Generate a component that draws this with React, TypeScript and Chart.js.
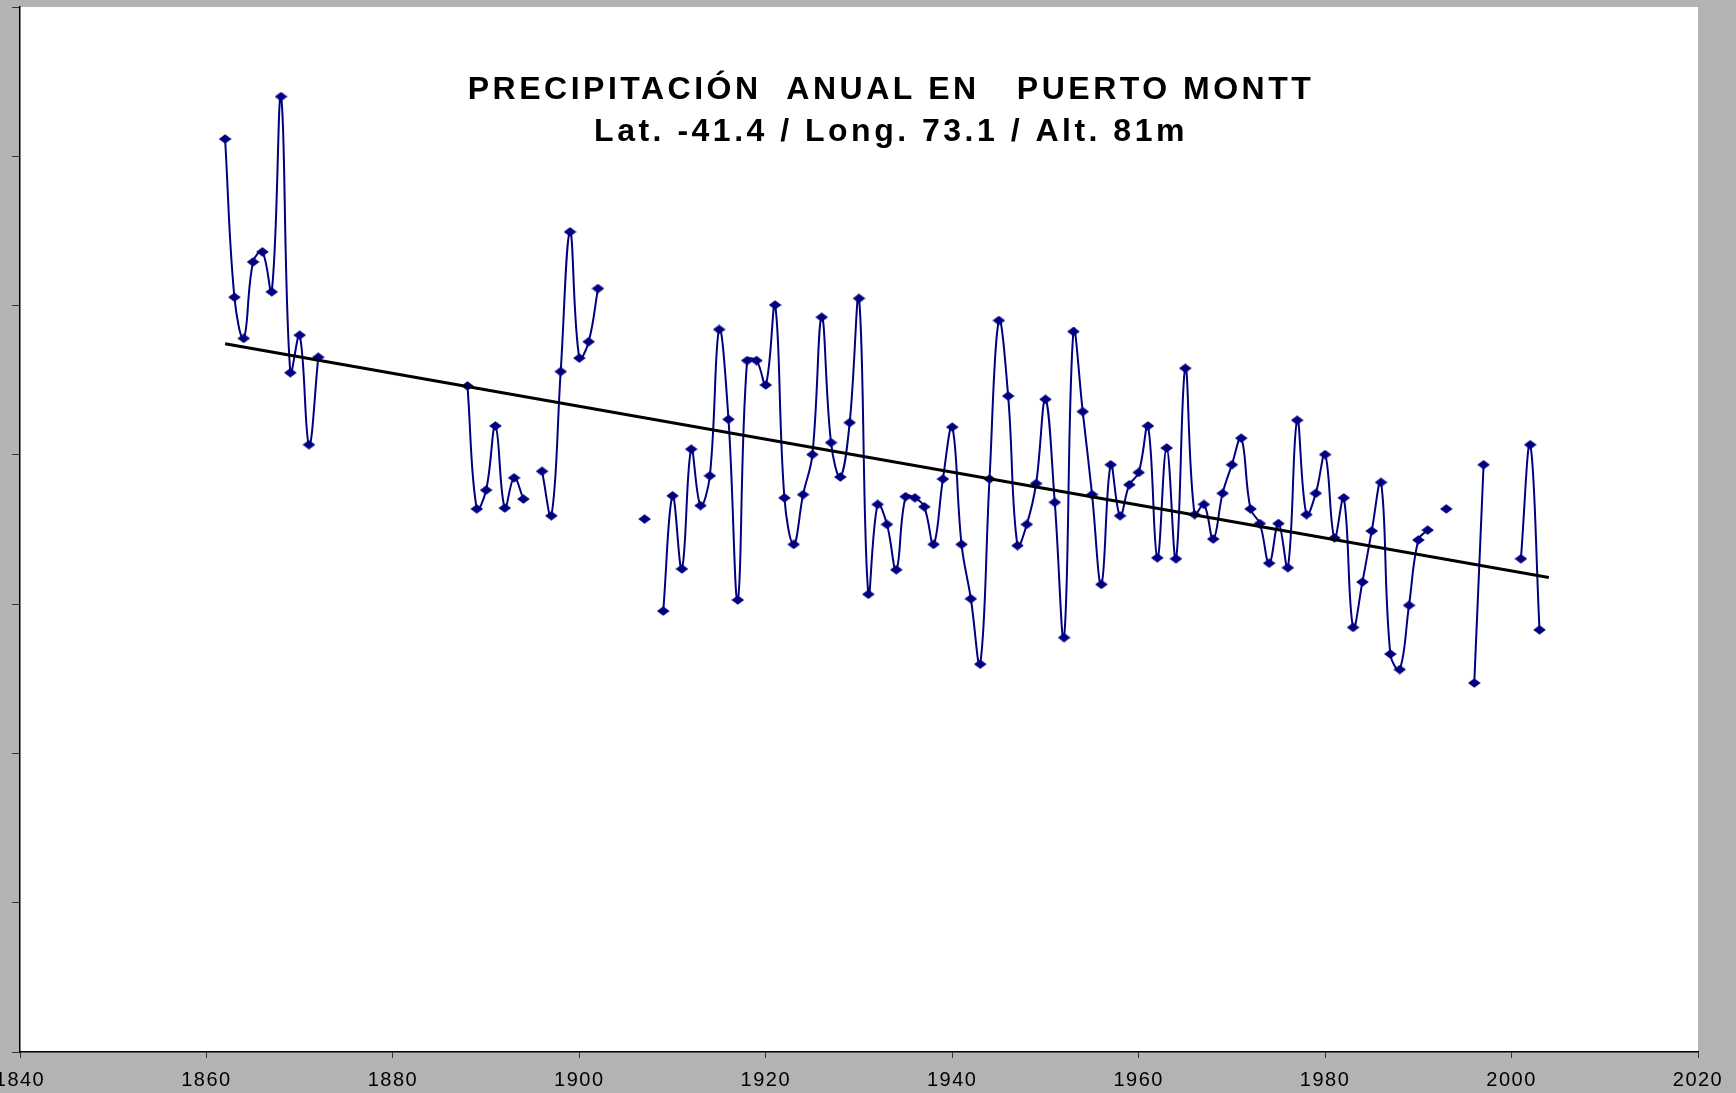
import React, { useEffect, useRef } from "react";
import { Chart, registerables } from "chart.js";

Chart.register(...registerables);

// Year axis positions (null values mark the gaps in the record)
const years = [
  1862, 1863, 1864, 1865, 1866, 1867, 1868, 1869, 1870, 1871, 1872,
  1880,
  1888, 1889, 1890, 1891, 1892, 1893, 1894,
  1895,
  1896, 1897, 1898, 1899, 1900, 1901, 1902,
  1905,
  1907,
  1908,
  1909, 1910, 1911, 1912, 1913, 1914, 1915, 1916, 1917, 1918, 1919,
  1920, 1921, 1922, 1923, 1924, 1925, 1926, 1927, 1928, 1929,
  1930, 1931, 1932, 1933, 1934, 1935, 1936, 1937, 1938, 1939,
  1940, 1941, 1942, 1943, 1944, 1945, 1946, 1947, 1948, 1949,
  1950, 1951, 1952, 1953, 1954, 1955, 1956, 1957, 1958, 1959,
  1960, 1961, 1962, 1963, 1964, 1965, 1966, 1967, 1968, 1969,
  1970, 1971, 1972, 1973, 1974, 1975, 1976, 1977, 1978, 1979,
  1980, 1981, 1982, 1983, 1984, 1985, 1986, 1987, 1988, 1989,
  1990, 1991,
  1992, 1993, 1994,
  1996, 1997,
  1999,
  2001, 2002, 2003,
];

// Annual precipitation (mm)
const precip = [
  3058, 2528, 2390, 2646, 2680, 2546, 3200, 2275, 2401, 2034, 2327,
  null,
  2231, 1819, 1882, 2097, 1822, 1923, 1852,
  null,
  1945, 1796, 2279, 2747, 2324, 2379, 2557,
  null,
  1785,
  null,
  1477, 1863, 1618, 2019, 1830, 1930, 2420, 2119, 1514, 2316, 2316,
  2234, 2502, 1856, 1700, 1867, 2001, 2461, 2041, 1926, 2108,
  2524, 1533, 1834, 1767, 1615, 1860, 1856, 1826, 1700, 1919,
  2093, 1700, 1518, 1299, 1919, 2450, 2197, 1696, 1767, 1904,
  2186, 1841, 1388, 2413, 2145, 1867, 1566, 1967, 1796, 1900,
  1941, 2097, 1655, 2023, 1652, 2290, 1800, 1834, 1718, 1871,
  1967, 2056, 1819, 1770, 1637, 1770, 1622, 2116, 1800, 1871,
  2001, 1722, 1856, 1422, 1574, 1745, 1908, 1333, 1281, 1496,
  1715, 1748,
  null, 1819, null,
  1236, 1967,
  null,
  1652, 2034, 1414,
];

// Linear trend line end points
const trendYears = [1862, 2004];
const trendValues = [2372, 1589];

const xTicks = { min: 1840, max: 2020, step: 20 };
const yTicks = { min: 0, max: 3500, step: 500 };

const titleLines = [
  "PRECIPITACIÓN  ANUAL EN   PUERTO MONTT",
  "Lat. -41.4 / Long. 73.1 / Alt. 81m",
];

const FONT = '"Liberation Sans", Arial, Helvetica, sans-serif';

function makeDiamond(): HTMLCanvasElement {
  const c = document.createElement("canvas");
  c.width = 13;
  c.height = 10;
  const g = c.getContext("2d")!;
  g.fillStyle = "#000080";
  g.beginPath();
  g.moveTo(6.5, 0.3);
  g.lineTo(12.8, 5);
  g.lineTo(6.5, 9.7);
  g.lineTo(0.2, 5);
  g.closePath();
  g.fill();
  return c;
}

const backgroundPlugin = {
  id: "bgPlugin",
  beforeDraw(chart: any) {
    const { ctx, chartArea } = chart;
    ctx.save();
    ctx.fillStyle = "#b3b3b3";
    ctx.fillRect(0, 0, chart.width, chart.height);
    ctx.fillStyle = "#ffffff";
    ctx.fillRect(
      chartArea.left,
      chartArea.top,
      chartArea.right - chartArea.left,
      chartArea.bottom - chartArea.top
    );
    ctx.restore();
    // spaced digits for the year labels
    (ctx as any).letterSpacing = "1.5px";
  },
};

const titlePlugin = {
  id: "titlePlugin",
  afterDraw(chart: any) {
    const { ctx, chartArea } = chart;
    (ctx as any).letterSpacing = "0px";
    const cx = (chartArea.left + chartArea.right) / 2 + 32;
    ctx.save();
    ctx.fillStyle = "#000";
    ctx.font = `bold 32px ${FONT}`;
    (ctx as any).letterSpacing = "3.5px";
    ctx.textAlign = "center";
    ctx.textBaseline = "alphabetic";
    ctx.fillText(titleLines[0], cx, chartArea.top + 92);
    ctx.fillText(titleLines[1], cx, chartArea.top + 134);
    ctx.restore();
  },
};

export default function App() {
  const ref = useRef<HTMLCanvasElement | null>(null);

  useEffect(() => {
    if (!ref.current) return;
    const diamond = makeDiamond();
    const chart = new Chart(ref.current, {
      type: "line",
      data: {
        datasets: [
          {
            label: "Tendencia",
            data: trendYears.map((x, i) => ({ x, y: trendValues[i] })),
            borderColor: "#000000",
            borderWidth: 3,
            pointRadius: 0,
            tension: 0,
            order: 0,
          },
          {
            label: "Precipitación anual",
            data: years.map((x, i) => ({ x, y: precip[i] })),
            borderColor: "#000080",
            backgroundColor: "#000080",
            borderWidth: 2,
            pointStyle: diamond as any,
            pointRadius: 5,
            tension: 0.4,
            spanGaps: false,
            order: 1,
          },
        ],
      },
      options: {
        animation: false,
        responsive: false,
        maintainAspectRatio: false,
        layout: { padding: { top: 7, right: 38, left: 0, bottom: 0 } },
        plugins: {
          legend: { display: false },
          tooltip: { enabled: false },
          title: { display: false },
        },
        scales: {
          x: {
            type: "linear",
            min: xTicks.min,
            max: xTicks.max,
            ticks: {
              stepSize: xTicks.step,
              color: "#000",
              font: { family: FONT, size: 20 },
              padding: 10,
              maxRotation: 0,
              callback: (v: any) => String(v),
            },
            grid: {
              drawOnChartArea: false,
              drawTicks: true,
              tickLength: 6,
              color: "#333",
            },
            border: { display: true, color: "#000", width: 1.5 },
            afterFit: (s: any) => {
              s.height = 41;
              s.paddingLeft = 0;
              s.paddingRight = 0;
            },
          },
          y: {
            type: "linear",
            min: yTicks.min,
            max: yTicks.max,
            ticks: { stepSize: yTicks.step, display: false },
            grid: {
              drawOnChartArea: false,
              drawTicks: true,
              tickLength: 8,
              color: "#333",
            },
            border: { display: true, color: "#000", width: 1.5 },
            afterFit: (s: any) => {
              s.width = 20;
              s.paddingTop = 0;
              s.paddingBottom = 0;
            },
          },
        },
      },
      plugins: [backgroundPlugin, titlePlugin],
    });
    return () => chart.destroy();
  }, []);

  return (
    <div
      style={{
        position: "fixed",
        left: 0,
        top: 0,
        width: 1736,
        height: 1093,
        background: "#b3b3b3",
      }}
    >
      <canvas ref={ref} width={1736} height={1093} style={{ display: "block" }} />
    </div>
  );
}
